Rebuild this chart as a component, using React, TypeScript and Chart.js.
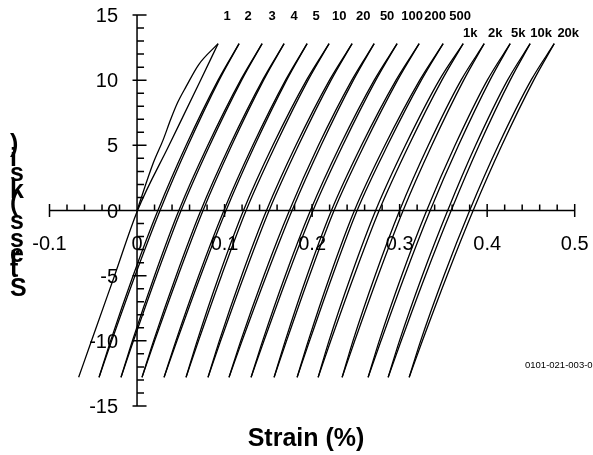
import React, { useEffect, useRef } from "react";
import { Chart, registerables } from "chart.js";

Chart.register(...registerables);

// ---------- data ----------
const CYCLES = ["1", "2", "3", "4", "5", "10", "20", "50", "100", "200", "500", "1k", "2k", "5k", "10k", "20k"];

// stress levels (ksi) at which branch strains are read (bottom tip -> top tip)
const STRESS = [-12.8, -10, -5, 0, 5, 10, 12.8];

// cycle 1: initial (virgin) loading from the origin, then unloading
const LOOP1_LOAD_STRESS = [0, 3.6, 5.4, 7.0, 8.3, 9.5, 11.2, 12.8];
const LOOP1_LOAD_STRAIN = [0, 0.0183, 0.0297, 0.0385, 0.0465, 0.056, 0.0705, 0.0926];
const LOOP1_UNLOAD_STRAIN = [-0.0667, -0.052, -0.0257, 0.0006, 0.0366, 0.0726, 0.0926];

// cycles 2 .. 20k: loading (right) and unloading (left) branch strains (%) at STRESS
const LOAD_STRAIN = [
  [-0.0434, -0.029, -0.0023, 0.0263, 0.0583, 0.0938, 0.1166],
  [-0.0183, -0.0041, 0.0222, 0.0503, 0.0831, 0.1195, 0.1429],
  [0.0057, 0.0201, 0.0469, 0.0754, 0.1082, 0.1446, 0.168],
  [0.0309, 0.0456, 0.0727, 0.1017, 0.1345, 0.1709, 0.1943],
  [0.056, 0.0702, 0.0965, 0.1246, 0.1582, 0.1954, 0.2194],
  [0.0811, 0.0955, 0.1223, 0.1509, 0.1845, 0.2217, 0.2457],
  [0.1051, 0.12, 0.1477, 0.1771, 0.2103, 0.2472, 0.2709],
  [0.1303, 0.145, 0.1721, 0.2011, 0.2351, 0.2728, 0.2971],
  [0.1566, 0.1708, 0.197, 0.2251, 0.2595, 0.2977, 0.3223],
  [0.1829, 0.1971, 0.2233, 0.2514, 0.2862, 0.3248, 0.3497],
  [0.2069, 0.2213, 0.248, 0.2766, 0.3106, 0.3483, 0.3726],
  [0.2343, 0.2487, 0.2754, 0.304, 0.3368, 0.3732, 0.3966],
  [0.264, 0.2787, 0.3058, 0.3349, 0.3673, 0.4032, 0.4263],
  [0.2869, 0.3018, 0.3294, 0.3589, 0.3908, 0.4263, 0.4491],
  [0.3109, 0.326, 0.3541, 0.384, 0.4168, 0.4532, 0.4766],
];
const UNLOAD_STRAIN = [
  [-0.0434, -0.0302, -0.0045, 0.0238, 0.0561, 0.0926, 0.1166],
  [-0.0183, -0.0053, 0.02, 0.0478, 0.0809, 0.1183, 0.1429],
  [0.0057, 0.0189, 0.0447, 0.0729, 0.106, 0.1434, 0.168],
  [0.0309, 0.0444, 0.0705, 0.0992, 0.1323, 0.1697, 0.1943],
  [0.056, 0.0687, 0.0937, 0.1216, 0.1552, 0.1936, 0.2194],
  [0.0811, 0.094, 0.1195, 0.1479, 0.1815, 0.2199, 0.2457],
  [0.1051, 0.1185, 0.1449, 0.1741, 0.2073, 0.2454, 0.2709],
  [0.1303, 0.1435, 0.1693, 0.1981, 0.2321, 0.271, 0.2971],
  [0.1566, 0.1693, 0.1942, 0.2221, 0.2565, 0.2959, 0.3223],
  [0.1829, 0.1956, 0.2205, 0.2484, 0.2832, 0.323, 0.3497],
  [0.2069, 0.2193, 0.2445, 0.2726, 0.3066, 0.3453, 0.3726],
  [0.2343, 0.2467, 0.2719, 0.3, 0.3328, 0.3702, 0.3966],
  [0.264, 0.2767, 0.3023, 0.3309, 0.3633, 0.4002, 0.4263],
  [0.2869, 0.2998, 0.3259, 0.3549, 0.3868, 0.4233, 0.4491],
  [0.3109, 0.324, 0.3506, 0.38, 0.4128, 0.4502, 0.4766],
];

const X_TICKS = [-0.1, 0, 0.1, 0.2, 0.3, 0.4, 0.5];
const X_TICK_LABELS = ["-0.1", "0", "0.1", "0.2", "0.3", "0.4", "0.5"];
const Y_TICKS = [-15, -10, -5, 0, 5, 10, 15];
const Y_TICK_LABELS = ["-15", "-10", "-5", "0", "5", "10", "15"];
const X_TITLE = "Strain (%)";
const Y_TITLE = "Stress (ksi)";
const FIG_ID = "0101-021-003-08";

// ---------- layout (annotation anchors, not data) ----------
const CYCLE_LABEL_STRAIN = [0.1029, 0.1269, 0.1543, 0.1794, 0.2046, 0.2309, 0.2583, 0.2857, 0.3143, 0.3406, 0.3691, 0.3806, 0.4091, 0.4354, 0.4617, 0.4926];
const CYCLE_LABEL_ROW = [0, 0, 0, 0, 0, 0, 0, 0, 0, 0, 0, 1, 1, 1, 1, 1];
const ROW_Y_PX = [16.5, 33];
// upright stacked glyphs of the y title, bottom-to-top baselines (px)
const Y_TITLE_BASELINES = [296, 277, 264, 262, 247, 229, 229, 211, 198, 181, 166, 152];

const FONT = '"Liberation Sans", Arial, Helvetica, sans-serif';

const decorPlugin = {
  id: "decor",
  beforeDatasetsDraw(chart: any) {
    const { ctx } = chart;
    const xs = chart.scales.x;
    const ys = chart.scales.y;
    const x0 = xs.getPixelForValue(0);
    const y0 = ys.getPixelForValue(0);
    ctx.save();
    ctx.strokeStyle = "#000";
    ctx.lineWidth = 1.5;
    ctx.beginPath();
    ctx.moveTo(xs.getPixelForValue(X_TICKS[0]), y0);
    ctx.lineTo(xs.getPixelForValue(X_TICKS[X_TICKS.length - 1]), y0);
    ctx.moveTo(x0, ys.getPixelForValue(Y_TICKS[Y_TICKS.length - 1]));
    ctx.lineTo(x0, ys.getPixelForValue(Y_TICKS[0]));
    X_TICKS.forEach((v) => {
      const px = xs.getPixelForValue(v);
      ctx.moveTo(px, y0 - 6.5);
      ctx.lineTo(px, y0 + 6.5);
    });
    for (let i = 0; i <= 30; i++) {
      if (i % 5 === 0) continue;
      const px = xs.getPixelForValue(-0.1 + i * 0.02);
      ctx.moveTo(px, y0 - 6);
      ctx.lineTo(px, y0);
    }
    Y_TICKS.forEach((v) => {
      const py = ys.getPixelForValue(v);
      ctx.moveTo(x0 - 4.5, py);
      ctx.lineTo(x0 + 9.5, py);
    });
    for (let v = -15; v <= 15; v++) {
      if (v % 5 === 0) continue;
      const py = ys.getPixelForValue(v);
      ctx.moveTo(x0, py);
      ctx.lineTo(x0 + 7, py);
    }
    ctx.stroke();

    ctx.fillStyle = "#000";
    ctx.font = `20px ${FONT}`;
    ctx.textAlign = "right";
    ctx.textBaseline = "middle";
    Y_TICKS.forEach((v, i) => {
      ctx.fillText(Y_TICK_LABELS[i], x0 - 19, ys.getPixelForValue(v) + 1.5);
    });
    ctx.textAlign = "center";
    X_TICKS.forEach((v, i) => {
      ctx.fillText(X_TICK_LABELS[i], xs.getPixelForValue(v), y0 + 33.5);
    });
    ctx.restore();
  },
  afterDraw(chart: any) {
    const { ctx } = chart;
    const xs = chart.scales.x;
    ctx.save();
    ctx.fillStyle = "#000";
    // cycle labels
    ctx.font = `bold 13px ${FONT}`;
    ctx.textAlign = "center";
    ctx.textBaseline = "middle";
    CYCLES.forEach((c, i) => {
      ctx.fillText(c, xs.getPixelForValue(CYCLE_LABEL_STRAIN[i]), ROW_Y_PX[CYCLE_LABEL_ROW[i]]);
    });
    // x title
    ctx.font = `bold 25px ${FONT}`;
    ctx.textBaseline = "alphabetic";
    ctx.fillText(X_TITLE, 306, 446);
    // y title: upright glyphs stacked bottom to top
    ctx.textAlign = "left";
    Y_TITLE.split("").forEach((ch, i) => {
      ctx.fillText(ch, 10, Y_TITLE_BASELINES[i]);
    });
    // figure id
    ctx.font = `9.5px ${FONT}`;
    ctx.textBaseline = "middle";
    ctx.fillText(FIG_ID, 525, 365);
    ctx.restore();
  },
};

function branch(strains: number[], stresses: number[]) {
  return strains.map((s, i) => ({ x: s, y: stresses[i] }));
}

export default function App() {
  const ref = useRef<HTMLCanvasElement>(null);
  useEffect(() => {
    if (!ref.current) return;
    const line = {
      showLine: true,
      borderColor: "#000",
      borderWidth: 1.3,
      pointRadius: 0,
      fill: false,
      cubicInterpolationMode: "monotone" as const,
    };
    const datasets: any[] = [
      { ...line, label: CYCLES[0] + " load", data: branch(LOOP1_LOAD_STRAIN, LOOP1_LOAD_STRESS) },
      { ...line, label: CYCLES[0] + " unload", data: branch(LOOP1_UNLOAD_STRAIN, STRESS) },
    ];
    LOAD_STRAIN.forEach((arr, i) => {
      datasets.push({ ...line, label: CYCLES[i + 1] + " load", data: branch(arr, STRESS) });
      datasets.push({ ...line, label: CYCLES[i + 1] + " unload", data: branch(UNLOAD_STRAIN[i], STRESS) });
    });
    const chart = new Chart(ref.current, {
      type: "scatter",
      data: { datasets },
      options: {
        responsive: false,
        animation: false,
        devicePixelRatio: 1,
        events: [],
        layout: { padding: { left: 49.5, right: 18.3, top: 15, bottom: 49 } },
        scales: {
          x: { type: "linear", min: -0.1, max: 0.5, display: false },
          y: { type: "linear", min: -15, max: 15, display: false },
        },
        plugins: { legend: { display: false }, tooltip: { enabled: false }, title: { display: false } },
      },
      plugins: [decorPlugin],
    });
    return () => chart.destroy();
  }, []);
  return (
    <div style={{ position: "absolute", left: 0, top: 0, width: 593, height: 455, background: "#fff" }}>
      <canvas ref={ref} width={593} height={455} style={{ display: "block" }} />
    </div>
  );
}
